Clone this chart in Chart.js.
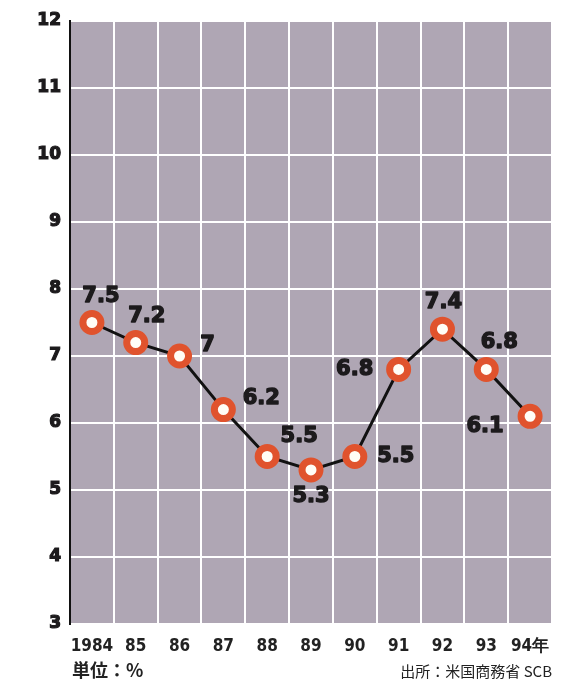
<!DOCTYPE html>
<html>
<head>
<meta charset="utf-8">
<script src="https://cdn.jsdelivr.net/npm/chart.js@4/dist/chart.umd.min.js"></script>
<style>
  html, body { margin: 0; padding: 0; background: #ffffff; }
  #wrap { width: 568px; height: 687px; position: relative; }
</style>
</head>
<body>
<div id="wrap"><canvas id="c" width="568" height="687"></canvas></div>
<script>
// Years on the horizontal axis
const years = ['1984', '85', '86', '87', '88', '89', '90', '91', '92', '93', '94年'];
// Rate in percent for each year
const rates = [7.5, 7.2, 7.0, 6.2, 5.5, 5.3, 5.5, 6.8, 7.4, 6.8, 6.1];
// Printed value labels
const valueLabels = ['7.5', '7.2', '7', '6.2', '5.5', '5.3', '5.5', '6.8', '7.4', '6.8', '6.1'];
// Vertical axis range and step
const yMin = 3, yMax = 12, yStep = 1;
// Footer texts
const unitText = '単位：%';
const sourceText = '出所：米国商務省 SCB';

// Offsets (px) of each value label from its point
const labelOffsets = [
  [9, -26], [11, -26], [28, -10], [38, -11], [32, -20], [0, 27],
  [41, 0], [-44, 0], [1, -27], [13, -27], [-45, 10]
];

const plotBg = {
  id: 'plotBg',
  beforeDraw(chart) {
    const { ctx, chartArea: a } = chart;
    ctx.save();
    ctx.fillStyle = '#afa6b4';
    ctx.fillRect(a.left, a.top, a.right - a.left, a.bottom - a.top);
    ctx.restore();
  }
};

const valueText = {
  id: 'valueText',
  afterDatasetsDraw(chart) {
    const { ctx } = chart;
    const meta = chart.getDatasetMeta(0);
    ctx.save();
    ctx.font = 'bold 21px "DejaVu Sans"';
    ctx.fillStyle = '#1c1a1c';
    ctx.strokeStyle = '#1c1a1c';
    ctx.lineWidth = 1.4;
    ctx.lineJoin = 'round';
    ctx.textAlign = 'center';
    ctx.textBaseline = 'middle';
    meta.data.forEach((pt, i) => {
      const [dx, dy] = labelOffsets[i];
      ctx.strokeText(valueLabels[i], pt.x + dx, pt.y + dy);
      ctx.fillText(valueLabels[i], pt.x + dx, pt.y + dy);
    });
    ctx.restore();
  }
};

const footer = {
  id: 'footer',
  afterDraw(chart) {
    const { ctx, chartArea: a } = chart;
    ctx.save();
    ctx.fillStyle = '#222222';
    ctx.textBaseline = 'middle';
    ctx.font = 'bold 18px "Noto Sans CJK JP"';
    ctx.textAlign = 'left';
    ctx.fillText(unitText, a.left + 2, 670);
    ctx.font = '15px "Noto Sans CJK JP"';
    ctx.textAlign = 'right';
    ctx.fillText(sourceText, a.right, 671);
    ctx.restore();
  }
};

new Chart(document.getElementById('c'), {
  type: 'line',
  data: {
    labels: years,
    datasets: [{
      data: rates,
      borderColor: '#111111',
      borderWidth: 3,
      tension: 0,
      pointRadius: 9,
      pointHoverRadius: 9,
      pointBorderWidth: 7,
      pointBorderColor: '#e0532d',
      pointBackgroundColor: '#fffdf6'
    }]
  },
  options: {
    responsive: false,
    animation: false,
    layout: { padding: { left: 0, top: 21, right: 15, bottom: 0 } },
    plugins: { legend: { display: false }, tooltip: { enabled: false } },
    scales: {
      x: {
        type: 'category',
        offset: true,
        grid: { offset: true, color: '#ffffff', lineWidth: 2, drawTicks: false },
        border: { display: false },
        ticks: {
          color: '#222222',
          padding: 12,
          maxRotation: 0,
          autoSkip: false,
          font: { family: '"DejaVu Sans Condensed", "Liberation Sans Narrow", "Roboto"', weight: 'bold', size: 17 }
        },
        afterFit(scale) { scale.height = 63; }
      },
      y: {
        min: yMin,
        max: yMax,
        grid: { color: '#ffffff', lineWidth: 2, drawTicks: false },
        border: { display: true, color: '#111111', width: 2 },
        ticks: {
          stepSize: yStep,
          color: '#1c1a1c',
          textStrokeColor: '#1c1a1c',
          textStrokeWidth: 1.2,
          padding: 9,
          font: { family: '"DejaVu Sans"', weight: 'bold', size: 17 }
        },
        afterFit(scale) { scale.width = 70; }
      }
    }
  },
  plugins: [plotBg, valueText, footer]
});
</script>
</body>
</html>
